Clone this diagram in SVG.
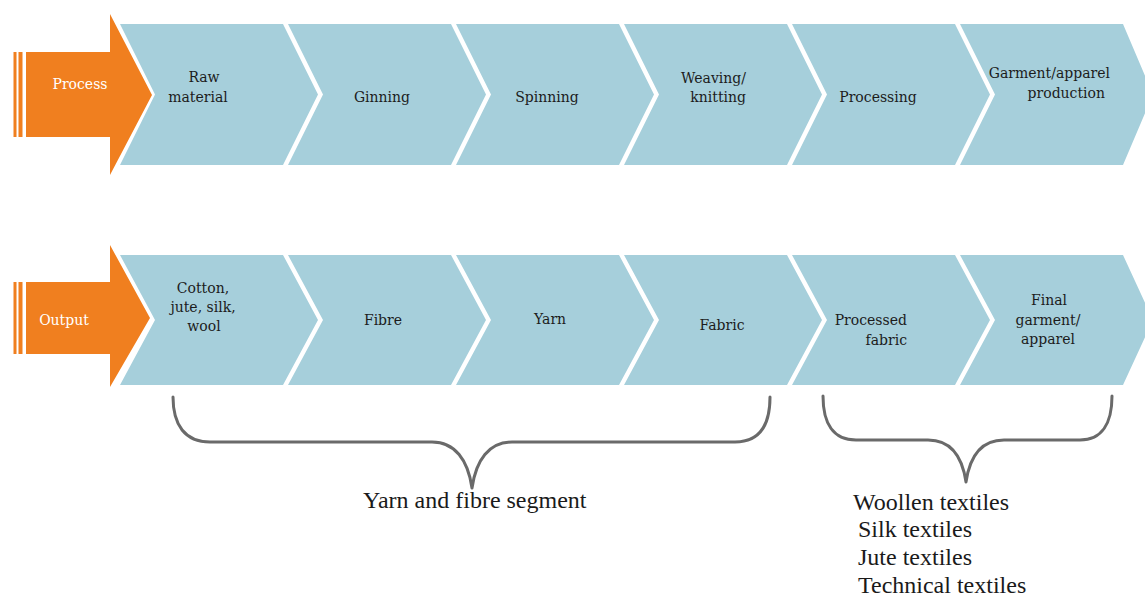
<svg xmlns="http://www.w3.org/2000/svg" width="1145" height="597" viewBox="0 0 1145 597">
<style>
.chev{fill:#a6cfdb}
.arr{fill:#f07f1f}
.lbl{font-family:"DejaVu Serif","Liberation Serif",serif;font-size:14px;fill:#1c1c1c}
.olbl{font-family:"DejaVu Serif","Liberation Serif",serif;font-size:14px;fill:#ffffff}
.big{font-family:"Liberation Serif","Times New Roman",serif;font-size:24px;fill:#1a1a1a}
.brace{fill:none;stroke:#6a6a6a;stroke-width:3;stroke-linecap:round;stroke-linejoin:round}
</style>
<rect width="1145" height="597" fill="#ffffff"/>

<g id="process-arrow">
<rect class="arr" x="13.5" y="52" width="3" height="85"/>
<rect class="arr" x="18.5" y="52" width="4" height="85"/>
<polygon class="arr" points="26,52 110,52 110,14 152,95 110,175 110,137 26,137"/>
<text class="olbl" x="80" y="89" text-anchor="middle">Process</text>
</g>
<g id="output-arrow">
<rect class="arr" x="13.5" y="282" width="3" height="72"/>
<rect class="arr" x="18.5" y="282" width="4" height="72"/>
<polygon class="arr" points="26,282 110,282 110,245 150,318 110,387 110,354 26,354"/>
<text class="olbl" x="64" y="325" text-anchor="middle">Output</text>
</g>

<g id="p1"><polygon class="chev" points="120,24 283,24 318,94.5 283,165 120,165 155,94.5"/>
<text class="lbl" text-anchor="middle"><tspan x="204" y="82">Raw</tspan><tspan x="198" y="102">material</tspan></text></g>
<g id="p2"><polygon class="chev" points="288,24 451,24 486,94.5 451,165 288,165 323,94.5"/>
<text class="lbl" x="382" y="102" text-anchor="middle">Ginning</text></g>
<g id="p3"><polygon class="chev" points="456,24 619,24 654,94.5 619,165 456,165 491,94.5"/>
<text class="lbl" x="547" y="102" text-anchor="middle">Spinning</text></g>
<g id="p4"><polygon class="chev" points="624,24 787,24 822,94.5 787,165 624,165 659,94.5"/>
<text class="lbl" text-anchor="end"><tspan x="746" y="83">Weaving/</tspan><tspan x="746" y="102">knitting</tspan></text></g>
<g id="p5"><polygon class="chev" points="792,24 955,24 990,94.5 955,165 792,165 827,94.5"/>
<text class="lbl" x="878" y="102" text-anchor="middle">Processing</text></g>
<g id="p6"><polygon class="chev" points="960,24 1123,24 1153,94.5 1123,165 960,165 995,94.5"/>
<text class="lbl" text-anchor="end"><tspan x="1110" y="78">Garment/apparel</tspan><tspan x="1105" y="98">production</tspan></text></g>

<g id="o1"><polygon class="chev" points="120,255 283,255 318,320 283,385 120,385 155,320"/>
<text class="lbl" text-anchor="middle"><tspan x="203" y="293">Cotton,</tspan><tspan x="203" y="312">jute, silk,</tspan><tspan x="204" y="331">wool</tspan></text></g>
<g id="o2"><polygon class="chev" points="288,255 451,255 486,320 451,385 288,385 323,320"/>
<text class="lbl" x="383" y="325" text-anchor="middle">Fibre</text></g>
<g id="o3"><polygon class="chev" points="456,255 619,255 654,320 619,385 456,385 491,320"/>
<text class="lbl" x="550" y="324" text-anchor="middle">Yarn</text></g>
<g id="o4"><polygon class="chev" points="624,255 787,255 822,320 787,385 624,385 659,320"/>
<text class="lbl" x="722" y="330" text-anchor="middle">Fabric</text></g>
<g id="o5"><polygon class="chev" points="792,255 955,255 990,320 955,385 792,385 827,320"/>
<text class="lbl" text-anchor="end"><tspan x="907" y="325">Processed</tspan><tspan x="907" y="345">fabric</tspan></text></g>
<g id="o6"><polygon class="chev" points="960,255 1123,255 1153,320 1123,385 960,385 995,320"/>
<text class="lbl" text-anchor="middle"><tspan x="1049" y="305">Final</tspan><tspan x="1048" y="325">garment/</tspan><tspan x="1048" y="344">apparel</tspan></text></g>

<g id="connectors">
<path class="brace" d="M173,397 C173,425 185,442 210,442 L432,442 C455,442 468,460 472,488 C476,460 489,442 512,442 L735,442 C760,442 770,425 770,397"/>
<path class="brace" d="M823,396 C823,423 833,440 856,440 L928,440 C950,440 962,455 966,482 C970,455 982,440 1004,440 L1080,440 C1102,440 1112,423 1112,396"/>
</g>

<g id="labels">
<text class="big" x="363" y="508">Yarn and fibre segment</text>
<text class="big" x="853" y="510">Woollen textiles</text>
<text class="big" x="858" y="537">Silk textiles</text>
<text class="big" x="858" y="565">Jute textiles</text>
<text class="big" x="858" y="593">Technical textiles</text>
</g>
</svg>
